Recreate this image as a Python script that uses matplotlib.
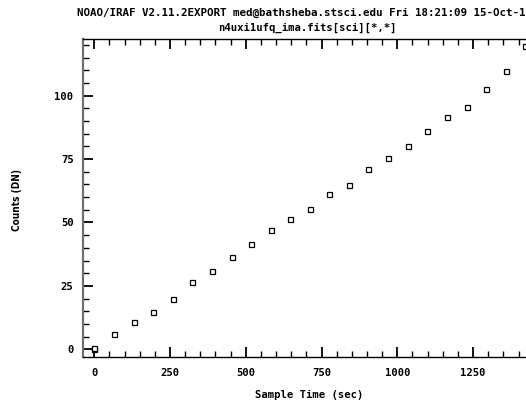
import matplotlib
matplotlib.use('Agg')
import matplotlib.pyplot as plt
from matplotlib.ticker import MultipleLocator

# sample times (sec) and counts (DN)
sample_time = [0, 0, 66, 130, 195, 259, 323, 388, 453, 518, 582, 647,
               711, 776, 840, 905, 970, 1035, 1099, 1164, 1229, 1293, 1358, 1422]
counts = [0, 0.6, 6.0, 10.6, 14.6, 19.8, 26.5, 30.8, 36.4, 41.6, 46.9, 51.4,
          55.2, 61.1, 64.7, 71.0, 75.6, 80.2, 86.1, 91.5, 95.4, 102.5, 109.9, 119.6]

title1 = 'NOAO/IRAF V2.11.2EXPORT med@bathsheba.stsci.edu Fri 18:21:09 15-Oct-1'
title2 = 'n4uxi1ufq_ima.fits[sci][*,*]'

mono = 'DejaVu Sans Mono'
fs = 7.6

fig = plt.figure(figsize=(5.26, 4.0), dpi=100)
# the plot frame runs a little past the right edge of the picture
ax = fig.add_axes([83.3 / 526, 42.7 / 400, 452.5 / 526, 318.0 / 400])

ax.plot(sample_time, counts, linestyle='none', marker='s', markersize=3.6,
        markerfacecolor='white', markeredgecolor='black', markeredgewidth=0.9)

ax.set_xlim(-36, 1457)
ax.set_ylim(-3.15, 122.2)

ax.xaxis.set_major_locator(MultipleLocator(250))
ax.xaxis.set_minor_locator(MultipleLocator(50))
ax.yaxis.set_major_locator(MultipleLocator(25))
ax.yaxis.set_minor_locator(MultipleLocator(5))

ax.tick_params(which='both', direction='in', top=True, right=True, color='black')
ax.tick_params(which='major', length=7.2, width=1.3)
ax.tick_params(which='minor', length=4.2, width=1.0)
ax.tick_params(axis='x', which='major', pad=8)
ax.tick_params(axis='y', which='major', pad=7)

for lab in ax.get_xticklabels() + ax.get_yticklabels():
    lab.set_fontfamily(mono)
    lab.set_fontweight('bold')
    lab.set_fontsize(fs)

for side in ['top', 'bottom', 'right']:
    ax.spines[side].set_linewidth(1.0)
    ax.spines[side].set_color('black')
ax.spines['left'].set_linewidth(1.6)
ax.spines['left'].set_color('#707070')

ax.set_xlabel('Sample Time (sec)', fontfamily=mono, fontweight='bold',
              fontsize=fs, labelpad=8)
fig.text(17.5 / 526, 1 - 200 / 400, 'Counts (DN)', rotation=90,
         ha='center', va='center', fontsize=7.2, fontweight='bold',
         fontstretch='condensed', family='DejaVu Sans')

fig.text(77 / 526, 1 - 13.3 / 400, title1, ha='left', va='center',
         fontfamily=mono, fontweight='bold', fontsize=7.85)
fig.text(307.5 / 526, 1 - 28.3 / 400, title2, ha='center', va='center',
         fontfamily=mono, fontweight='bold', fontsize=fs)

fig.savefig('out.png', dpi=100)
